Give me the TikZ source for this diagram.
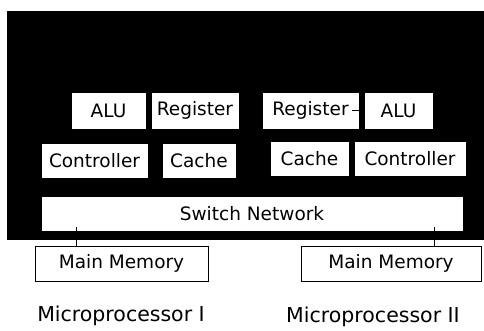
\documentclass[tikz,border=0pt]{standalone}
\usepackage{fontspec}
\setmainfont{DejaVu Sans}
\usetikzlibrary{positioning}

\begin{document}
\begin{tikzpicture}[x=1pt, y=1pt,
    unit/.style={fill=white, draw=white, inner sep=0pt, minimum height=35pt, font=\fontsize{18.5}{21}\selectfont},
    mem/.style={draw, thin, fill=white, inner sep=0pt, minimum height=35pt, font=\fontsize{18.5}{21}\selectfont},
    caption/.style={inner sep=0pt, anchor=base, font=\fontsize{20.5}{24}\selectfont}
  ]
    \useasboundingbox (0,0) rectangle (484,331);
    % chip area
    \fill (7,91) rectangle (484,320);
    % upper row
    \node[unit, minimum width=73pt] (alua) at (108.5,220.5) {ALU};
    \node[unit, minimum width=86pt] (rega) at (195,220.5) {Register};
    \node[unit, minimum width=95pt] (regb) at (310.5,220.5) {Register};
    \node[unit, minimum width=67pt] (alub) at (398.5,220.5) {ALU};
    % lower row
    \node[unit, minimum width=105pt, minimum height=33pt] (ctla) at (94.5,170.5) {Controller};
    \node[unit, minimum width=72pt, minimum height=33pt] (cachea) at (199,170.5) {Cache};
    \node[unit, minimum width=77pt, minimum height=33pt] (cacheb) at (309.5,172.5) {Cache};
    \node[unit, minimum width=110pt, minimum height=33pt] (ctlb) at (410,172) {Controller};
    \node[unit, minimum width=420pt, minimum height=33pt] (sw) at (252,117.5) {Switch Network};
    % memories
    \node[mem, minimum width=173pt] (mema) at (121.5,67.5) {Main Memory};
    \node[mem, minimum width=180pt] (memb) at (391,67.5) {Main Memory};
    \node[caption] (proca) at (121,9) {Microprocessor I};
    \node[caption] (procb) at (373,8) {Microprocessor II};
    \coordinate (tapa) at (76,0);
    \coordinate (tapb) at (434,0);
    \draw ([xshift=-6pt]regb.east) -- (alub.west);
    \draw ([yshift=3pt]tapa |- sw.south) -- (tapa |- mema.north);
    \draw ([yshift=3pt]tapb |- sw.south) -- (tapb |- memb.north);
  \end{tikzpicture}
\end{document}
